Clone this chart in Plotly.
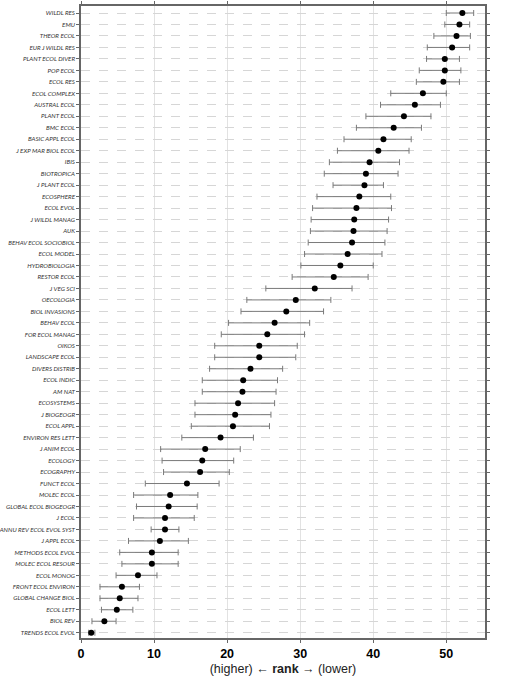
import plotly.graph_objects as go

# journals, top row first
journals = [
    "WILDL RES", "EMU", "THEOR ECOL", "EUR J WILDL RES", "PLANT ECOL DIVER",
    "POP ECOL", "ECOL RES", "ECOL COMPLEX", "AUSTRAL ECOL", "PLANT ECOL",
    "BMC ECOL", "BASIC APPL ECOL", "J EXP MAR BIOL ECOL", "IBIS", "BIOTROPICA",
    "J PLANT ECOL", "ECOSPHERE", "ECOL EVOL", "J WILDL MANAG", "AUK",
    "BEHAV ECOL SOCIOBIOL", "ECOL MODEL", "HYDROBIOLOGIA", "RESTOR ECOL", "J VEG SCI",
    "OECOLOGIA", "BIOL INVASIONS", "BEHAV ECOL", "FOR ECOL MANAG", "OIKOS",
    "LANDSCAPE ECOL", "DIVERS DISTRIB", "ECOL INDIC", "AM NAT", "ECOSYSTEMS",
    "J BIOGEOGR", "ECOL APPL", "ENVIRON RES LETT", "J ANIM ECOL", "ECOLOGY",
    "ECOGRAPHY", "FUNCT ECOL", "MOLEC ECOL", "GLOBAL ECOL BIOGEOGR", "J ECOL",
    "ANNU REV ECOL EVOL SYST", "J APPL ECOL", "METHODS ECOL EVOL", "MOLEC ECOL RESOUR", "ECOL MONOG",
    "FRONT ECOL ENVIRON", "GLOBAL CHANGE BIOL", "ECOL LETT", "BIOL REV", "TRENDS ECOL EVOL",
]

# median rank
rank = [
    52.2, 51.8, 51.4, 50.8, 49.8, 49.8, 49.6, 46.8, 45.7, 44.2,
    42.8, 41.4, 40.7, 39.5, 39.0, 38.8, 38.1, 37.7, 37.4, 37.3,
    37.1, 36.5, 35.5, 34.6, 32.0, 29.4, 28.1, 26.5, 25.5, 24.4,
    24.4, 23.2, 22.2, 22.1, 21.5, 21.1, 20.8, 19.1, 17.0, 16.6,
    16.3, 14.5, 12.2, 12.0, 11.5, 11.5, 10.8, 9.7, 9.7, 7.8,
    5.6, 5.3, 4.9, 3.2, 1.4,
]

# lower / upper bounds of the rank interval
rank_low = [
    50.0, 49.8, 48.3, 47.4, 47.3, 46.3, 45.9, 42.4, 41.0, 39.0,
    37.7, 36.0, 35.1, 34.0, 33.3, 34.5, 32.3, 31.7, 31.5, 31.4,
    31.1, 30.6, 30.1, 28.9, 25.3, 22.7, 21.9, 20.2, 19.2, 18.3,
    18.3, 17.6, 16.6, 16.6, 15.6, 15.6, 15.1, 13.8, 10.9, 11.1,
    11.3, 8.8, 7.2, 7.6, 7.2, 9.6, 6.5, 5.3, 5.6, 4.8,
    2.6, 2.6, 2.8, 1.5, 1.05,
]
rank_high = [
    53.75, 53.2, 53.3, 53.2, 51.8, 52.0, 51.8, 50.0, 49.2, 47.9,
    46.6, 45.2, 44.9, 43.6, 43.4, 41.4, 42.4, 42.5, 42.1, 41.9,
    41.6, 41.2, 40.0, 39.3, 37.1, 34.2, 33.2, 31.3, 30.6, 29.6,
    29.4, 27.6, 26.9, 26.7, 26.5, 26.0, 25.8, 23.6, 21.8, 20.9,
    20.3, 18.9, 16.0, 15.9, 15.5, 13.4, 14.7, 13.3, 13.3, 10.4,
    8.0, 7.8, 7.1, 4.8, 1.9,
]

err_plus = [h - r for h, r in zip(rank_high, rank)]
err_minus = [r - l for r, l in zip(rank, rank_low)]

fig = go.Figure()

fig.add_trace(go.Scatter(
    x=rank,
    y=journals,
    mode="markers",
    marker=dict(color="black", size=6),
    error_x=dict(
        type="data",
        symmetric=False,
        array=err_plus,
        arrayminus=err_minus,
        color="#7a7a7a",
        thickness=1,
        width=3,
    ),
    showlegend=False,
))

n = len(journals)

fig.update_layout(
    width=509,
    height=679,
    margin=dict(l=81, r=24, t=6, b=41),
    plot_bgcolor="white",
    paper_bgcolor="white",
    xaxis=dict(
        range=[0, 55.3],
        tickvals=[0, 10, 20, 30, 40, 50],
        tickfont=dict(family="Liberation Sans", size=12.5, color="black", weight="bold"),
        showgrid=True,
        gridcolor="#e2e2e2",
        gridwidth=1,
        zeroline=False,
        showline=True,
        linecolor="#666",
        linewidth=1.5,
        mirror="ticks",
        ticks="outside",
        ticklen=3,
        tickcolor="#666",
        automargin=False,
        title=dict(
            text="(higher) ← <b>rank</b> → (lower)",
            font=dict(family="Liberation Sans", size=12.5, color="#222"),
            standoff=4,
        ),
    ),
    yaxis=dict(
        type="category",
        categoryorder="array",
        categoryarray=journals,
        range=[n - 1 + 0.46, -0.61],
        tickfont=dict(family="Lato", size=6.2, color="#333", style="italic"),
        showgrid=True,
        gridcolor="#d6d6d6",
        griddash="dash",
        gridwidth=0.8,
        showline=True,
        linecolor="#666",
        linewidth=1.5,
        mirror="ticks",
        ticks="outside",
        ticklen=3,
        tickcolor="#666",
        ticklabelstandoff=0,
        automargin=False,
    ),
)

# drop the default page margin so the figure sits at the window's corner
fig.write_html(
    "out.html",
    config={"displayModeBar": False},
    post_script="document.body.style.margin='0';",
)
